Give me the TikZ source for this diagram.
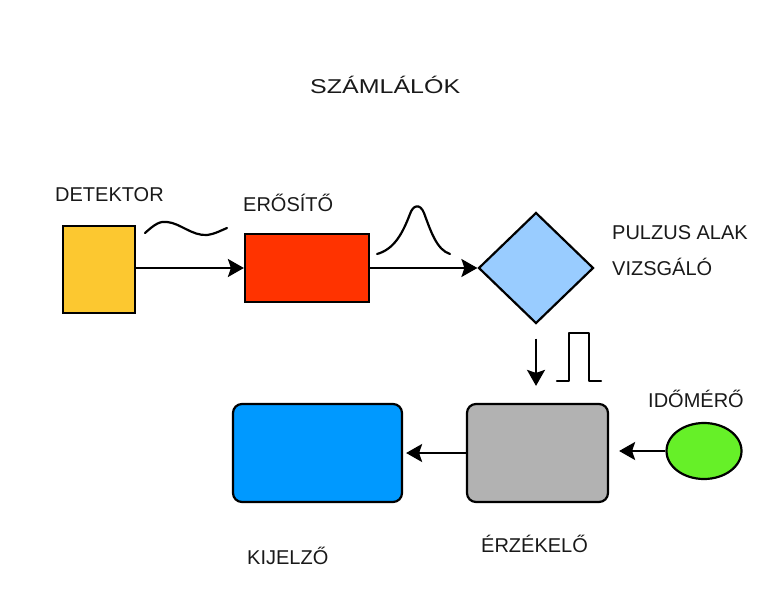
\documentclass[tikz,border=0pt]{standalone}
\usepackage{fontspec}
\setmainfont{Liberation Sans}
\usetikzlibrary{arrows.meta,shapes.geometric}
\definecolor{detyellow}{RGB}{252,200,48}
\definecolor{amplred}{RGB}{255,51,0}
\definecolor{pulseblue}{RGB}{153,204,255}
\definecolor{sensegray}{RGB}{178,178,178}
\definecolor{dispblue}{RGB}{0,153,255}
\definecolor{clockgreen}{RGB}{102,240,40}

\begin{document}
\begin{tikzpicture}[x=1pt, y=-1pt,
    block/.style={draw=black, line width=2.2pt, inner sep=0pt},
    lbl/.style={anchor=base west, inner sep=0pt, text=black!90,
                font=\fontsize{20}{24}\selectfont},
    conn/.style={-{Stealth[length=16pt,width=18pt,inset=3pt]}, line width=2pt},
    sig/.style={line width=2.2pt, line cap=round, line join=round}]
        \useasboundingbox (0,0) rectangle (783,593);

        % Title
        \node[lbl] (title) at (310,94) {\scalebox{1.25}[1]{SZÁMLÁLÓK}};

        % Upper chain
        \node[block, fill=detyellow, minimum width=72pt, minimum height=87pt] (detektor) at (99,269.5) {};
        \node[block, fill=amplred, minimum width=124pt, minimum height=68pt] (erosito) at (307,268) {};
        \node[block, diamond, fill=pulseblue, minimum width=115pt, minimum height=111pt] (vizsgalo) at (536,268) {};

        \node[lbl] (lbl-detektor) at (55,202) {DETEKTOR};
        \node[lbl] (lbl-erosito) at (243,212) {ERŐSÍTŐ};
        \node[lbl] (lbl-pulzus) at (612,240) {PULZUS ALAK};
        \node[lbl] (lbl-vizsgalo) at (612,275) {VIZSGÁLÓ};

        % Lower chain
        \node[block, rounded corners=9pt, fill=sensegray, minimum width=141pt, minimum height=98pt] (erzekelo) at (537.5,453) {};
        \node[block, rounded corners=9pt, fill=dispblue, minimum width=169pt, minimum height=98pt] (kijelzo) at (317.5,453) {};
        \node[block, ellipse, fill=clockgreen, minimum width=75pt, minimum height=56pt] (idomero) at (704,451) {};

        \node[lbl] (lbl-idomero) at (648,407) {IDŐMÉRŐ};
        \node[lbl] (lbl-erzekelo) at (481,552) {ÉRZÉKELŐ};
        \node[lbl] (lbl-kijelzo) at (247,564) {KIJELZŐ};

        % Arrows
        \draw[conn] (detektor.east |- erosito.west) -- (erosito.west);
        \draw[conn] (erosito.east) -- (vizsgalo.west);
        \draw[conn] ([yshift=-14pt]vizsgalo.south) -- ([yshift=17pt]vizsgalo.south |- erzekelo.north);
        \draw[conn, shorten >=3pt] (erzekelo.west |- kijelzo.east) -- (kijelzo.east);
        \draw[conn, shorten >=10pt] (idomero.west) -- (idomero.west -| erzekelo.east);

        % Signal shapes
        \draw[sig] (145,233) .. controls (155,224) and (160,221) .. (167,222)
                   .. controls (180,223) and (192,236) .. (207,235)
                   .. controls (215,234) and (222,230) .. (227,228);
        \draw[sig] (377,254) .. controls (395,249) and (403,232) .. (410,214)
                   .. controls (413,205) and (420,203) .. (424,213)
                   .. controls (431,232) and (437,250) .. (450,254);
        \draw[sig] (557,381) -- (569,381) -- (569,333) -- (589,333) -- (589,381) -- (601,381);
\end{tikzpicture}
\end{document}
